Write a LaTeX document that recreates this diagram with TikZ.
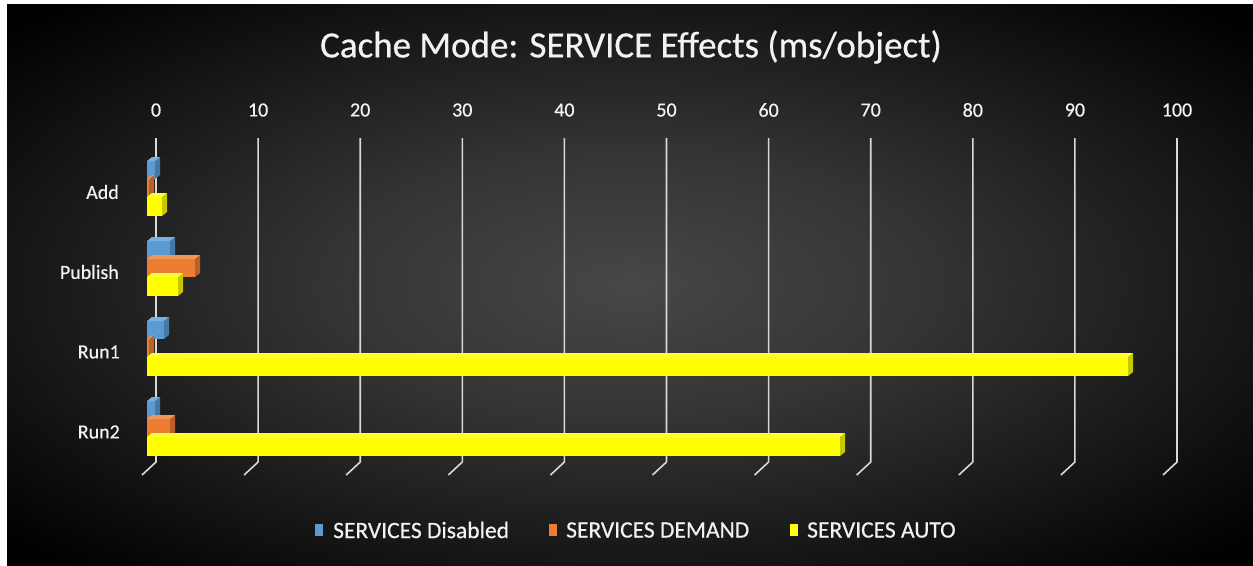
\documentclass[tikz,border=0pt]{standalone}
\usepackage{fontspec}
\setmainfont{Carlito}
\newfontfamily\chartfont[FakeBold=0.5]{Carlito}
\definecolor{cblue}{HTML}{5B9BD5}
\definecolor{corange}{HTML}{ED7D31}
\definecolor{cyel}{HTML}{FFFF00}
\definecolor{txt}{HTML}{F2F2F2}
\definecolor{grid}{HTML}{D9D9D9}
\definecolor{bgc}{HTML}{474747}
\definecolor{bgm}{HTML}{343434}
\pgfdeclareradialshading{bgshade}{\pgfpoint{0bp}{0bp}}{color(0bp)=(bgc); color(12bp)=(bgm); color(34bp)=(black); color(50bp)=(black)}
\newcommand{\chartbar}[4]{% color, ytop, ybottom, xend
  \fill[#1] (147,#2) rectangle (#4,#3);
  \fill[#1!78!black] (#4,#2) -- ++(5,-4) -- ++(0,{#3-#2}) -- (#4,#3) -- cycle;
  \fill[#1!80!white] (147,#2) -- ++(5,-4) -- ({#4+5},{#2-4}) -- (#4,#2) -- cycle;
}
\tikzset{
  gridline/.style={draw=grid, line width=1.6pt},
  ticklabel/.style={text=txt, font=\chartfont\fontsize{20}{22}\selectfont, inner sep=0pt},
  catlabel/.style={text=txt, font=\chartfont\fontsize{20}{22}\selectfont, inner sep=0pt, anchor=east},
  legtext/.style={text=txt, font=\chartfont\fontsize{23.5}{25}\selectfont, inner sep=0pt, anchor=west},
}
\begin{document}
\begin{tikzpicture}[x=1pt,y=-1pt]
\useasboundingbox (0,0) rectangle (1253,565);
\fill[white] (0,0) rectangle (1253,565);
\shade[shading=bgshade] (7,4) rectangle (1253,565);
% title
\node[text=txt, font=\chartfont\fontsize{37}{40}\selectfont, inner sep=0pt] (title) at (631,47) {Cache Mode: SERVICE Effects (ms/object)};
% gridlines and tick labels
\foreach \v [count=\i from 0] in {0,10,...,100} {
  \pgfmathsetmacro{\gx}{156+10.21*\v}
  \draw[gridline] (\gx,138) -- (\gx,462) -- ({\gx-14},475);
  \node[ticklabel] (t\i) at (\gx,110) {\v};
}
% category labels
\node[catlabel] (cadd) at (119,192) {Add};
\node[catlabel] (cpub) at (119,272) {Publish};
\node[catlabel] (crun1) at (120,352) {Run1};
\node[catlabel] (crun2) at (120,432) {Run2};
% bars: Add (c=192)
\chartbar{cblue}{161}{179}{155}
\chartbar{corange}{179}{197}{149}
\chartbar{cyel}{197}{216}{162}
% Publish (c=272)
\chartbar{cblue}{241}{259}{170}
\chartbar{corange}{259}{277}{195}
\chartbar{cyel}{277}{296}{178}
% Run1 (c=352)
\chartbar{cblue}{321}{339}{164}
\chartbar{corange}{339}{357}{149}
\chartbar{cyel}{357}{376}{1128}
% Run2 (c=432)
\chartbar{cblue}{401}{419}{155}
\chartbar{corange}{419}{437}{170}
\chartbar{cyel}{437}{456}{840}
% legend
\fill[cblue] (315,524) rectangle (323,536);
\node[legtext] (l1) at (333,530) {SERVICES Disabled};
\fill[corange] (549,524) rectangle (557,536);
\node[legtext] (l2) at (566,530) {SERVICES DEMAND};
\fill[cyel] (790,524) rectangle (798,536);
\node[legtext] (l3) at (807,530) {SERVICES AUTO};
\end{tikzpicture}
\end{document}
